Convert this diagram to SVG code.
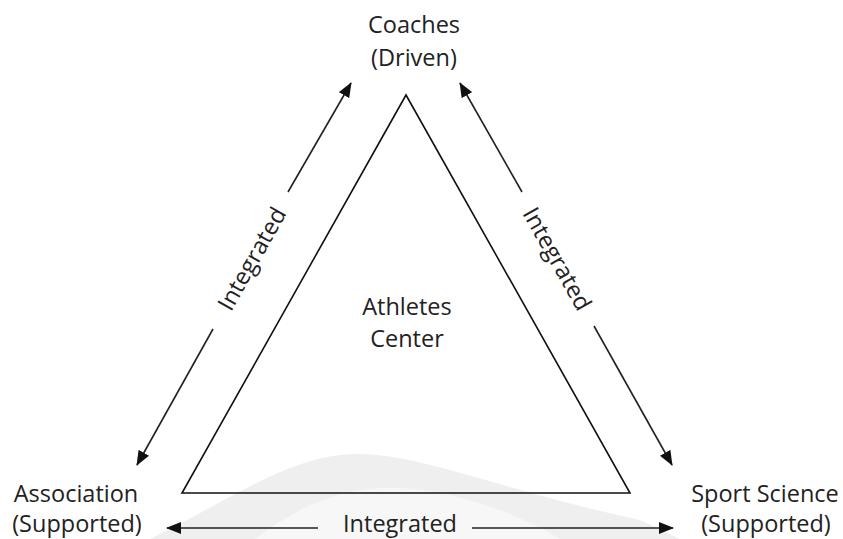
<svg xmlns="http://www.w3.org/2000/svg" width="843" height="539" viewBox="0 0 843 539">
<defs>
<style>
text{font-family:"Open Sans","Liberation Sans",sans-serif;font-size:23.5px;fill:#222;text-anchor:middle}
.ln{stroke:#222;stroke-width:1.6;fill:none}
</style>
<marker id="ah" viewBox="0 0 15 12" refX="14" refY="6" markerWidth="15" markerHeight="12" markerUnits="userSpaceOnUse" orient="auto">
<path d="M0,0 L15,6 L0,12 Z" fill="#111"/>
</marker>
</defs>
<rect width="843" height="539" fill="#fff"/>
<g id="watermark">
<path d="M150,539 C230,500 290,455 355,454 C420,453 500,490 640,520 L680,539 Z" fill="#efefef"/>
<path d="M255,539 C300,505 345,485 400,488 C455,491 515,512 560,539 Z" fill="#f7f7f7"/>
</g>
<g id="athletes">
<polygon points="406,95 182,493 630,493" fill="none" stroke="#111" stroke-width="1.6"/>
<text x="407" y="315">Athletes</text>
<text x="407" y="347">Center</text>
</g>
<g id="coaches">
<text x="414" y="33">Coaches</text>
<text x="414" y="66">(Driven)</text>
</g>
<g id="association">
<text x="76" y="502">Association</text>
<text x="77" y="532">(Supported)</text>
</g>
<g id="sportscience">
<text x="765" y="502">Sport Science</text>
<text x="766" y="532">(Supported)</text>
</g>
<g id="connectors">
<line class="ln" x1="288" y1="192" x2="351" y2="83" marker-end="url(#ah)"/>
<line class="ln" x1="213" y1="329" x2="137" y2="465" marker-end="url(#ah)"/>
<line class="ln" x1="522" y1="192" x2="460" y2="83" marker-end="url(#ah)"/>
<line class="ln" x1="594" y1="326" x2="672" y2="465" marker-end="url(#ah)"/>
<line class="ln" x1="318" y1="528" x2="167" y2="528" marker-end="url(#ah)"/>
<line class="ln" x1="472" y1="528" x2="673" y2="528" marker-end="url(#ah)"/>
<text transform="translate(252,259) rotate(-60.5)" y="8">Integrated</text>
<text transform="translate(557,259) rotate(60.5)" y="8">Integrated</text>
<text x="400" y="532">Integrated</text>
</g>
</svg>
